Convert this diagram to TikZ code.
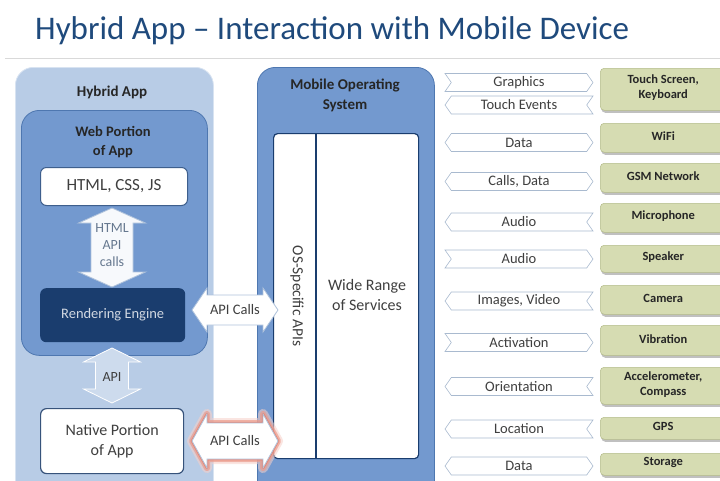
\documentclass[tikz,border=0pt]{standalone}
\usepackage{fontspec}
\setmainfont{Carlito}
\usetikzlibrary{shapes.symbols,shadows}

\definecolor{titleblue}{HTML}{1F4A7C}
\definecolor{rulegray}{HTML}{D9D9D9}
\definecolor{paleblue}{HTML}{B8CCE6}
\definecolor{paleedge}{HTML}{D8E3F1}
\definecolor{midblue}{HTML}{7399CF}
\definecolor{edgeblue}{HTML}{4E77B0}
\definecolor{navy}{HTML}{1A3D6E}
\definecolor{darktext}{HTML}{3F3F3F}
\definecolor{softtext}{HTML}{66788F}
\definecolor{khaki}{HTML}{D6DCB2}
\definecolor{khakiedge}{HTML}{B4BC8A}
\definecolor{tagedge}{HTML}{A9BACF}
\definecolor{glow}{HTML}{E57A66}

% double-headed block arrows: centre x, centre y, half length, shaft half width, head half width, head length
\newcommand\blockarrowh[6]{({#1-#3},#2) -- ({#1-#3+#6},{#2-#5}) -- ({#1-#3+#6},{#2-#4}) -- ({#1+#3-#6},{#2-#4}) -- ({#1+#3-#6},{#2-#5}) -- ({#1+#3},#2) -- ({#1+#3-#6},{#2+#5}) -- ({#1+#3-#6},{#2+#4}) -- ({#1-#3+#6},{#2+#4}) -- ({#1-#3+#6},{#2+#5}) -- cycle}
\newcommand\blockarrowv[6]{(#1,{#2-#3}) -- ({#1-#5},{#2-#3+#6}) -- ({#1-#4},{#2-#3+#6}) -- ({#1-#4},{#2+#3-#6}) -- ({#1-#5},{#2+#3-#6}) -- (#1,{#2+#3}) -- ({#1+#5},{#2+#3-#6}) -- ({#1+#4},{#2+#3-#6}) -- ({#1+#4},{#2-#3+#6}) -- ({#1+#5},{#2-#3+#6}) -- cycle}

\newcommand\fs[1]{\fontsize{#1}{#1}\selectfont}

\begin{document}
\begin{tikzpicture}[x=1pt,y=-1pt,
  panelbox/.style={anchor=north west, rounded corners=18pt, line width=0.8pt},
  whitebox/.style={anchor=north west, fill=white, rounded corners=6pt, line width=1pt},
  heading/.style={font=\fs{15}\bfseries, text=black!85, align=center},
  blocklabel/.style={font=\fs{14.5}, text=darktext, align=center},
  tag/.style={signal, draw=tagedge, fill=white, line width=0.6pt,
    minimum width=148pt, minimum height=18pt, inner sep=1pt,
    signal pointer angle=110, font=\fs{14.5}, text=darktext},
  tagR/.style={tag, signal from=west, signal to=east},
  tagL/.style={tag, signal from=east, signal to=west},
  tagB/.style={tag, signal to=east and west},
  device/.style={anchor=north west, fill=khaki, draw=khakiedge, line width=0.5pt,
    rounded corners=4pt, minimum width=126pt,
    drop shadow={shadow xshift=1pt, shadow yshift=-2.5pt, opacity=.45, fill=black!55}},
  devlabel/.style={font=\fs{12.5}\bfseries, text=black!85, align=center, yshift=1.5pt}
]
\useasboundingbox (0,0) rectangle (720,480);
\clip (0,0) rectangle (720,480);

% title
\node[anchor=base west, font=\fs{33}, text=titleblue, inner sep=0] (title) at (35,39)
  {Hybrid App -- Interaction with Mobile Device};
\draw[rulegray, line width=1pt] (5,58) -- (720,58);

% hybrid app column
\node[panelbox, fill=paleblue, draw=paleedge, minimum width=198pt, minimum height=440pt] (hyb) at (15,67) {};
\node[heading] (hybtitle) at (112,92) {Hybrid App};
\node[panelbox, fill=midblue, draw=edgeblue, minimum width=186pt, minimum height=245pt] (web) at (21,110) {};
\node[heading, font=\fs{14.5}\bfseries] (webtitle) at (113,142) {Web Portion\\[4.5pt]of App};
\node[whitebox, draw=edgeblue!80!black, minimum width=147pt, minimum height=38pt,
  font=\fs{17}, text=darktext] (html) at (40,167) {HTML, CSS, JS};
\node[anchor=north west, fill=navy, rounded corners=6pt, minimum width=145pt, minimum height=54pt,
  font=\fs{14.5}, text=white!80!navy] (render) at (40,288) {Rendering Engine};
\node[whitebox, draw=edgeblue!70!black, line width=1.2pt, minimum width=143pt, minimum height=65pt,
  font=\fs{16}, text=darktext, align=center] (native) at (40,408) {Native Portion\\[4pt]of App};

% block arrows inside the hybrid app
\draw[fill=white!94!midblue, draw=edgeblue!45, line width=0.8pt] \blockarrowv{112}{247.5}{39.5}{21}{33.5}{15};
\node[blocklabel, text=softtext, font=\fs{14}] (htmlapi) at (112,245) {HTML\\[3pt]API\\[3pt]calls};
\draw[fill=paleblue!70!white, draw=white, line width=0.8pt] \blockarrowv{112}{375.5}{27.5}{16.5}{28.5}{14};
\node[blocklabel, font=\fs{14}] (apilabel) at (112,377) {API};

% mobile operating system column
\node[panelbox, fill=midblue, draw=edgeblue, minimum width=177pt, minimum height=440pt] (os) at (257,67) {};
\node[heading] (ostitle) at (345,95) {Mobile Operating\\[5pt]System};
\node[anchor=north west, fill=white, draw=navy, line width=1.2pt, rounded corners=4pt,
  minimum width=145pt, minimum height=325pt] (osin) at (273,133) {};
\draw[navy, line width=1.2pt] (osin.north west -| 316,0) -- (osin.south west -| 316,0);
\node[rotate=-90, font=\fs{15.5}, text=darktext] (osapis) at (297,296) {OS-Specific APIs};
\node[font=\fs{16}, text=darktext, align=center] (services) at (367,295) {Wide Range\\[4pt]of Services};

% api calls between the two columns
\draw[fill=white, draw=edgeblue!45, line width=0.8pt] \blockarrowh{235}{310}{43}{15}{22}{15};
\node[blocklabel] (calls1) at (235,310) {API Calls};
\draw[glow!35, line width=10pt, opacity=.55, line join=round] \blockarrowh{235}{441}{43}{18}{27}{15};
\draw[glow!75, line width=6pt, opacity=.7, line join=round] \blockarrowh{235}{441}{43}{18}{27}{15};
\draw[glow, line width=2.5pt, opacity=.7, line join=round] \blockarrowh{235}{441}{43}{18}{27}{15};
\draw[fill=white, draw=edgeblue!45, line width=0.8pt] \blockarrowh{235}{441}{43}{18}{27}{15};
\node[blocklabel] (calls2) at (235,441) {API Calls};

% data exchanged with the device hardware
\node[tagR] (t1) at (519,82.5) {Graphics};
\node[tagL] (t2) at (519,105) {Touch Events};
\node[tagB] (t3) at (519,142.5) {Data};
\node[tagB] (t4) at (519,181.5) {Calls, Data};
\node[tagL] (t5) at (519,222) {Audio};
\node[tagR] (t6) at (519,259) {Audio};
\node[tagL] (t7) at (519,301) {Images, Video};
\node[tagR] (t8) at (519,342.5) {Activation};
\node[tagL] (t9) at (519,386.5) {Orientation};
\node[tagL] (t10) at (519,429) {Location};
\node[tagB] (t11) at (519,466) {Data};

% device hardware
\node[device, minimum height=42pt] (d1) at (600,68) {};
\node[devlabel] at (d1) {Touch Screen,\\[2.5pt]Keyboard};
\node[device, minimum height=29pt] (d2) at (600,123) {};
\node[devlabel] at (d2) {WiFi};
\node[device, minimum height=29pt] (d3) at (600,163) {};
\node[devlabel] at (d3) {GSM Network};
\node[device, minimum height=29pt] (d4) at (600,203) {};
\node[devlabel] at (d4) {Microphone};
\node[device, minimum height=27pt] (d5) at (600,245) {};
\node[devlabel] at (d5) {Speaker};
\node[device, minimum height=29pt] (d6) at (600,285) {};
\node[devlabel] at (d6) {Camera};
\node[device, minimum height=30pt] (d7) at (600,325) {};
\node[devlabel] at (d7) {Vibration};
\node[device, minimum height=37pt] (d8) at (600,367) {};
\node[devlabel] at (d8) {Accelerometer,\\[2.5pt]Compass};
\node[device, minimum height=22pt] (d9) at (600,417) {};
\node[devlabel] at (d9) {GPS};
\node[device, minimum height=22pt] (d10) at (600,453) {};
\node[devlabel] at (d10) {Storage};
\end{tikzpicture}
\end{document}
